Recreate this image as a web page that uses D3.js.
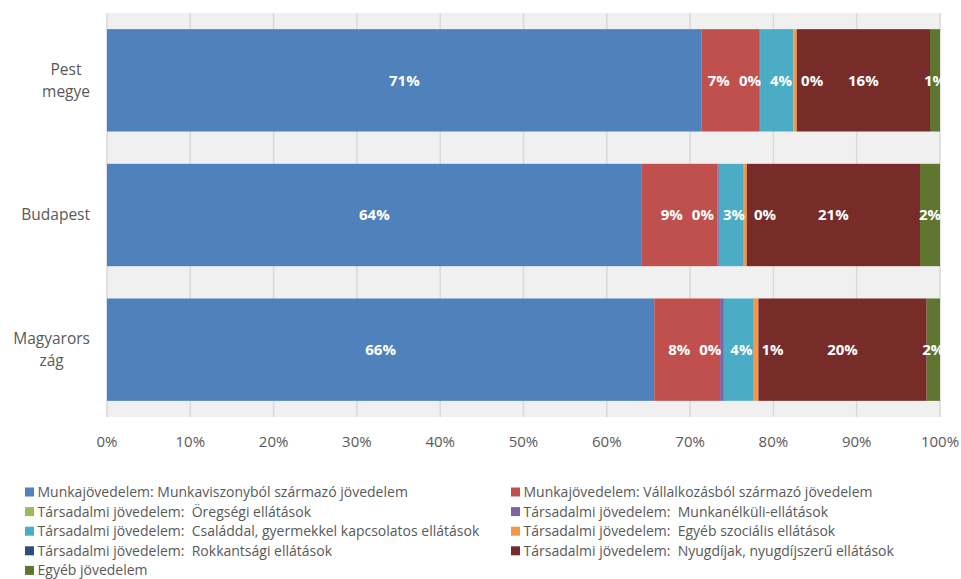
<!DOCTYPE html>
<html>
<head>
<meta charset="utf-8">
<script src="https://cdn.jsdelivr.net/npm/d3@7"></script>
<style>
  body { margin: 0; background: #fff; }
  text { font-family: "Open Sans", sans-serif; }
</style>
</head>
<body>
<svg id="chart" width="961" height="579"></svg>
<script>
// categories (display lines wrap like the original)
const categories = ["Pest megye", "Budapest", "Magyarország"];
const categoryLines = [["Pest", "megye"], ["Budapest"], ["Magyarors", "zág"]];

const seriesNames = [
  "Munkajövedelem: Munkaviszonyból származó jövedelem",
  "Munkajövedelem: Vállalkozásból származó jövedelem",
  "Társadalmi jövedelem:  Öregségi ellátások",
  "Társadalmi jövedelem:  Munkanélküli-ellátások",
  "Társadalmi jövedelem:  Családdal, gyermekkel kapcsolatos ellátások",
  "Társadalmi jövedelem:  Egyéb szociális ellátások",
  "Társadalmi jövedelem:  Rokkantsági ellátások",
  "Társadalmi jövedelem:  Nyugdíjak, nyugdíjszerű ellátások",
  "Egyéb jövedelem"
];
const seriesColors = ["#4F81BD", "#C0504D", "#9BBB59", "#8064A2", "#4BACC6",
                      "#F79646", "#2C4D75", "#772C2A", "#5F7530"];

// shares in %, order: Pest megye, Budapest, Magyarország
const munkaviszony = [71.4, 64.2, 65.7];
const vallalkozas  = [6.9, 9.1, 7.9];
const oregsegi     = [null, null, null];
const munkanelkuli = [0.1, 0.15, 0.45];
const csaladi      = [4.0, 2.9, 3.5];
const egyebSzoc    = [0.4, 0.45, 0.65];
const rokkant      = [null, null, null];
const nyugdij      = [16.0, 20.8, 20.2];
const egyeb        = [1.2, 2.4, 1.6];
const seriesValues = [munkaviszony, vallalkozas, oregsegi, munkanelkuli, csaladi,
                      egyebSzoc, rokkant, nyugdij, egyeb];

const xTicks = [0, 0.1, 0.2, 0.3, 0.4, 0.5, 0.6, 0.7, 0.8, 0.9, 1];

const plot = { left: 107, right: 940, top: 13, bottom: 417 };
const svg = d3.select("#chart");

svg.append("rect").attr("x", plot.left).attr("y", plot.top)
  .attr("width", plot.right - plot.left).attr("height", plot.bottom - plot.top)
  .attr("fill", "#F0F0F0");

const x = d3.scaleLinear().domain([0, 1]).range([plot.left, plot.right]);
const y = d3.scaleBand().domain(categories).range([plot.top, plot.bottom])
  .paddingInner(0.24).paddingOuter(0.12);

// table for the stack
const table = categories.map((c, i) => {
  const row = { cat: c };
  seriesNames.forEach((s, j) => { row[s] = seriesValues[j][i] == null ? 0 : seriesValues[j][i] / 100; });
  return row;
});
const stacked = d3.stack().keys(seriesNames)(table);

// gridlines
svg.append("g").selectAll("line").data(xTicks).join("line")
  .attr("x1", d => x(d)).attr("x2", d => x(d))
  .attr("y1", plot.top).attr("y2", plot.bottom)
  .attr("stroke", "#D9D9D9").attr("stroke-width", 1.5);

// bars
const layers = svg.append("g").selectAll("g").data(stacked).join("g")
  .attr("fill", (d, i) => seriesColors[i]);
layers.selectAll("rect").data(d => d).join("rect")
  .attr("x", d => x(d[0]))
  .attr("y", d => y(d.data.cat))
  .attr("width", d => Math.max(0, x(d[1]) - x(d[0])))
  .attr("height", y.bandwidth());

// data labels, pushed apart where they collide
const labelG = svg.append("g");
categories.forEach((c, ci) => {
  const items = [];
  stacked.forEach((layer, si) => {
    const v = seriesValues[si][ci];
    if (v == null) return;
    const seg = layer[ci];
    const t = labelG.append("text")
      .attr("y", y(c) + y.bandwidth() / 2)
      .attr("dy", "0.35em")
      .attr("text-anchor", "middle")
      .attr("fill", "#fff")
      .style("font-size", "15px")
      .style("font-weight", "bold")
      .text(Math.round(v) + "%");
    const w = t.node().getComputedTextLength() + 9;
    items.push({ t, w, cx: (x(seg[0]) + x(seg[1])) / 2 });
  });
  for (let pass = 0; pass < 200; pass++) {
    for (let k = 0; k < items.length - 1; k++) {
      const a = items[k], b = items[k + 1];
      const over = (a.cx + a.w / 2) - (b.cx - b.w / 2);
      if (over > 0) { a.cx -= over / 2; b.cx += over / 2; }
    }
  }
  items.forEach(d => d.t.attr("x", d.cx));
});

// x axis labels
svg.append("g").selectAll("text").data(xTicks).join("text")
  .attr("x", d => x(d)).attr("y", 447)
  .attr("text-anchor", "middle")
  .attr("fill", "#595959")
  .style("font-size", "15px")
  .text(d3.format(".0%"));

// category labels (multi-line, centred block, right aligned)
categories.forEach((c, i) => {
  const lines = categoryLines[i];
  const lh = 22;
  const cy = y(c) + y.bandwidth() / 2;
  const g = svg.append("g");
  const texts = lines.map((ln, k) => g.append("text")
    .attr("y", cy + (k - (lines.length - 1) / 2) * lh)
    .attr("dy", "0.35em")
    .attr("text-anchor", "middle")
    .attr("fill", "#595959")
    .style("font-size", "15.5px")
    .text(ln));
  const maxW = d3.max(texts, t => t.node().getComputedTextLength());
  texts.forEach(t => t.attr("x", 90 - maxW / 2));
});

// legend, two columns
const legend = svg.append("g");
seriesNames.forEach((s, i) => {
  const col = i % 2, row = Math.floor(i / 2);
  const lx = col === 0 ? 25 : 511;
  const ly = 492 + row * 19.6;
  legend.append("rect").attr("x", lx).attr("y", ly - 4.5)
    .attr("width", 9).attr("height", 9).attr("fill", seriesColors[i]);
  legend.append("text").attr("x", lx + 12.5).attr("y", ly).attr("dy", "0.35em")
    .attr("fill", "#595959").style("font-size", "14px")
    .style("white-space", "pre")
    .text(s);
});
</script>
</body>
</html>
